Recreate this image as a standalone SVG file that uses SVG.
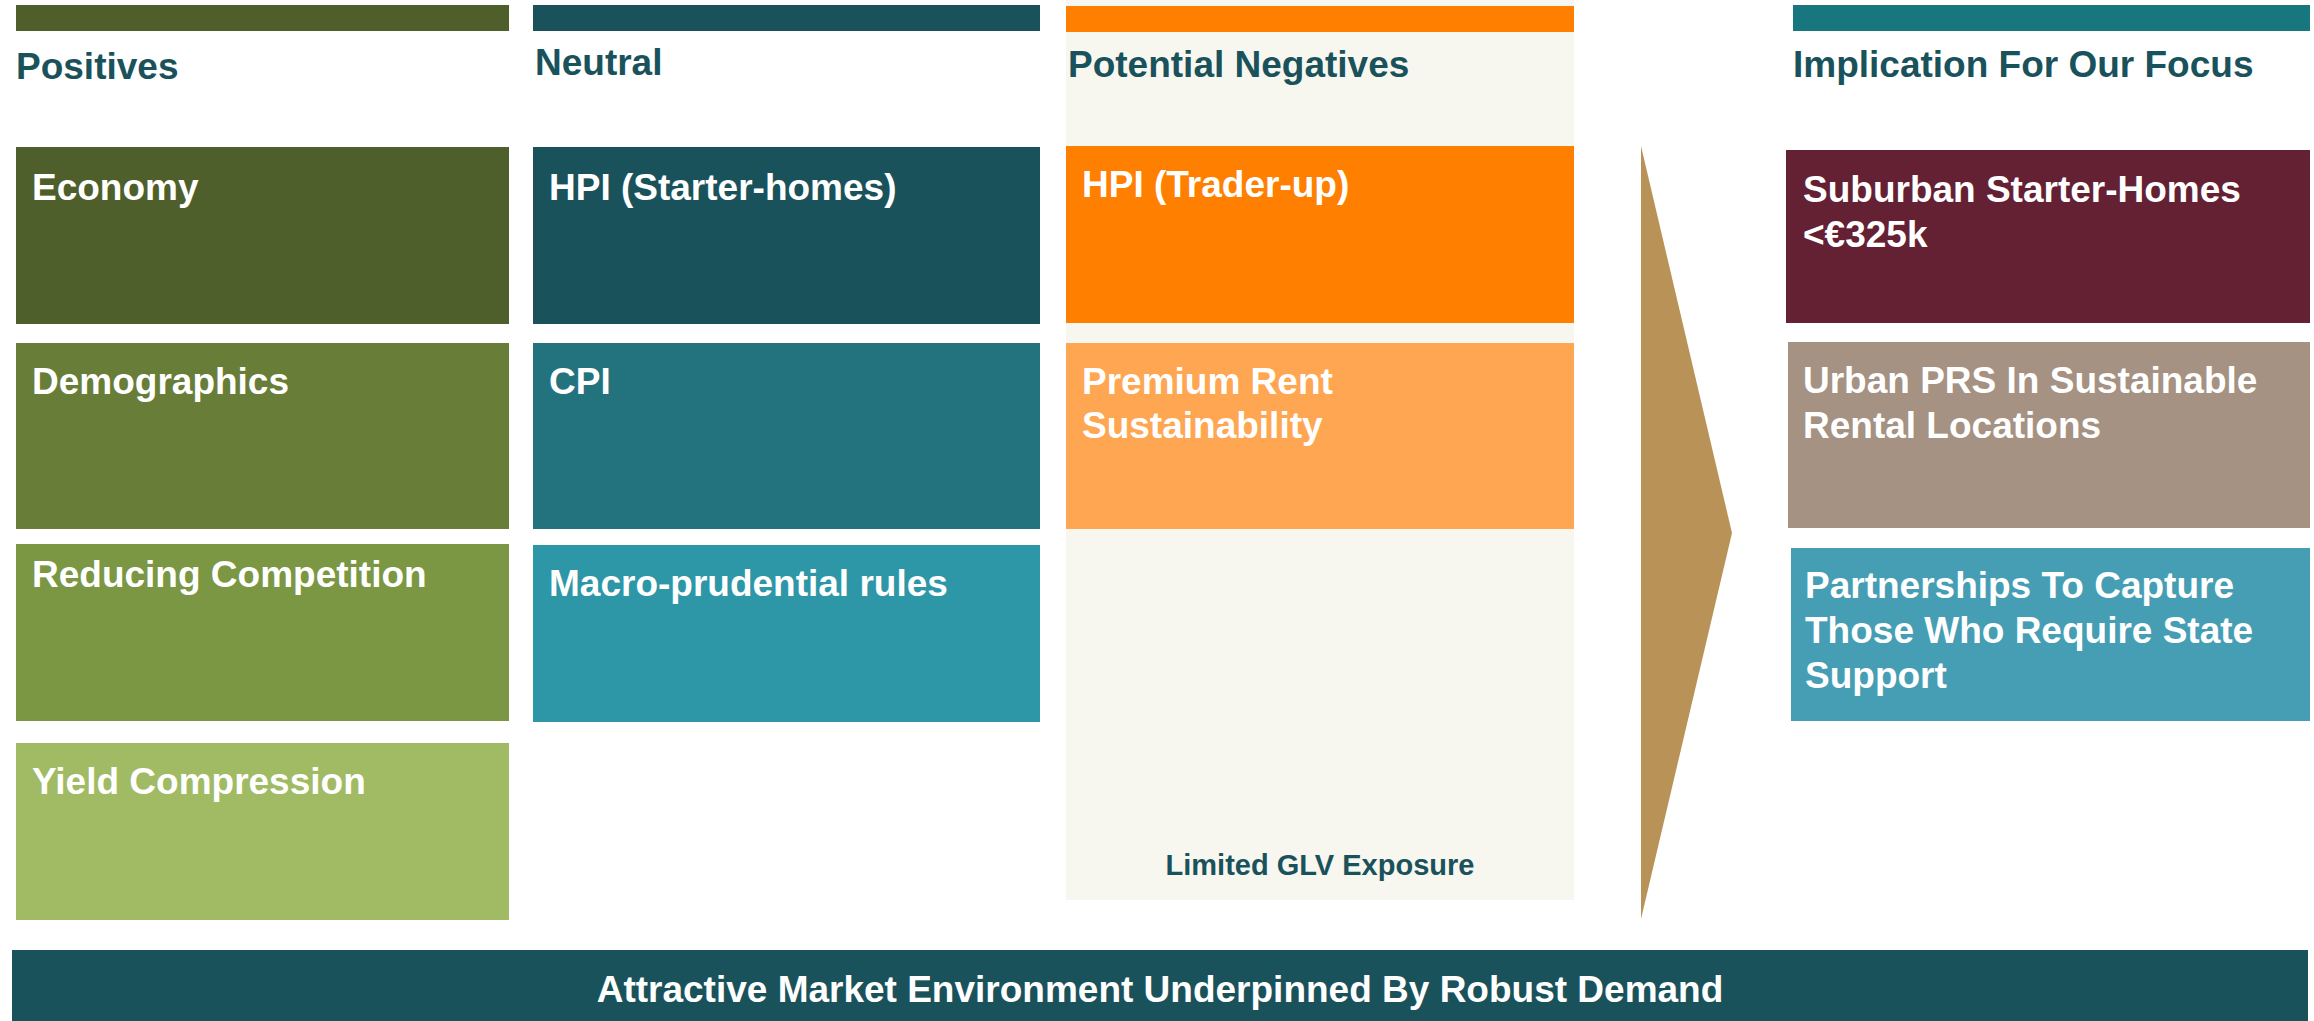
<svg xmlns="http://www.w3.org/2000/svg" width="2314" height="1021" viewBox="0 0 2314 1021">
  <style>
    text { font-family: "Liberation Sans", Arial, sans-serif; font-weight: bold; }
    .hd { font-size: 37px; fill: #1A525C; }
    .lb { font-size: 37px; fill: #FFFFFF; }
    .note { font-size: 29px; fill: #1A525C; text-anchor: middle; }
    .banner { font-size: 37px; fill: #FFFFFF; text-anchor: middle; }
  </style>
  <rect width="2314" height="1021" fill="#FFFFFF"/>

  <!-- Column: Positives -->
  <g id="col-positives">
    <rect x="16" y="5" width="493" height="26" fill="#4F5F2B"/>
    <text class="hd" x="16" y="79">Positives</text>
  </g>
  <g id="economy">
    <rect x="16" y="147" width="493" height="177" fill="#4F5F2B"/>
    <text class="lb" x="32" y="200">Economy</text>
  </g>
  <g id="demographics">
    <rect x="16" y="343" width="493" height="186" fill="#687D38"/>
    <text class="lb" x="32" y="394">Demographics</text>
  </g>
  <g id="reducing-competition">
    <rect x="16" y="544" width="493" height="177" fill="#7B9743"/>
    <text class="lb" x="32" y="587">Reducing Competition</text>
  </g>
  <g id="yield-compression">
    <rect x="16" y="743" width="493" height="177" fill="#A0BB64"/>
    <text class="lb" x="32" y="794">Yield Compression</text>
  </g>

  <!-- Column: Neutral -->
  <g id="col-neutral">
    <rect x="533" y="5" width="507" height="26" fill="#1A525C"/>
    <text class="hd" x="535" y="75">Neutral</text>
  </g>
  <g id="hpi-starter">
    <rect x="533" y="147" width="507" height="177" fill="#1A525C"/>
    <text class="lb" x="549" y="200">HPI (Starter-homes)</text>
  </g>
  <g id="cpi">
    <rect x="533" y="343" width="507" height="186" fill="#22737E"/>
    <text class="lb" x="549" y="394">CPI</text>
  </g>
  <g id="macro-prudential">
    <rect x="533" y="545" width="507" height="177" fill="#2E97A7"/>
    <text class="lb" x="549" y="596">Macro-prudential rules</text>
  </g>

  <!-- Column: Potential Negatives -->
  <g id="col-negatives">
    <rect x="1066" y="0" width="508" height="900" fill="#F7F7F0"/>
    <rect x="1066" y="6" width="508" height="26" fill="#FF7F00"/>
    <text class="hd" x="1068" y="77">Potential Negatives</text>
    <text class="note" x="1320" y="875">Limited GLV Exposure</text>
  </g>
  <g id="hpi-trader">
    <rect x="1066" y="146" width="508" height="177" fill="#FF7F00"/>
    <text class="lb" x="1082" y="197">HPI (Trader-up)</text>
  </g>
  <g id="premium-rent">
    <rect x="1066" y="343" width="508" height="186" fill="#FFA652"/>
    <text class="lb" x="1082" y="394">Premium Rent</text>
    <text class="lb" x="1082" y="438">Sustainability</text>
  </g>

  <!-- Chevron leading to the implications -->
  <g id="connectors">
    <polygon points="1641,146 1732,533 1641,919" fill="#B89256"/>
  </g>

  <!-- Column: Implication For Our Focus -->
  <g id="col-implication">
    <rect x="1793" y="5" width="517" height="26" fill="#17767E"/>
    <text class="hd" x="1793" y="77">Implication For Our Focus</text>
  </g>
  <g id="suburban-starter">
    <rect x="1786" y="150" width="524" height="173" fill="#642134"/>
    <text class="lb" x="1803" y="202">Suburban Starter-Homes</text>
    <text class="lb" x="1803" y="247">&lt;€325k</text>
  </g>
  <g id="urban-prs">
    <rect x="1788" y="342" width="522" height="186" fill="#A59282"/>
    <text class="lb" x="1803" y="393">Urban PRS In Sustainable</text>
    <text class="lb" x="1803" y="438">Rental Locations</text>
  </g>
  <g id="partnerships">
    <rect x="1791" y="548" width="519" height="173" fill="#469EB5"/>
    <text class="lb" x="1805" y="598">Partnerships To Capture</text>
    <text class="lb" x="1805" y="643">Those Who Require State</text>
    <text class="lb" x="1805" y="688">Support</text>
  </g>

  <!-- Footer banner -->
  <g id="footer">
    <rect x="12" y="950" width="2296" height="71" fill="#1A525C"/>
    <text class="banner" x="1160" y="1002">Attractive Market Environment Underpinned By Robust Demand</text>
  </g>
</svg>
